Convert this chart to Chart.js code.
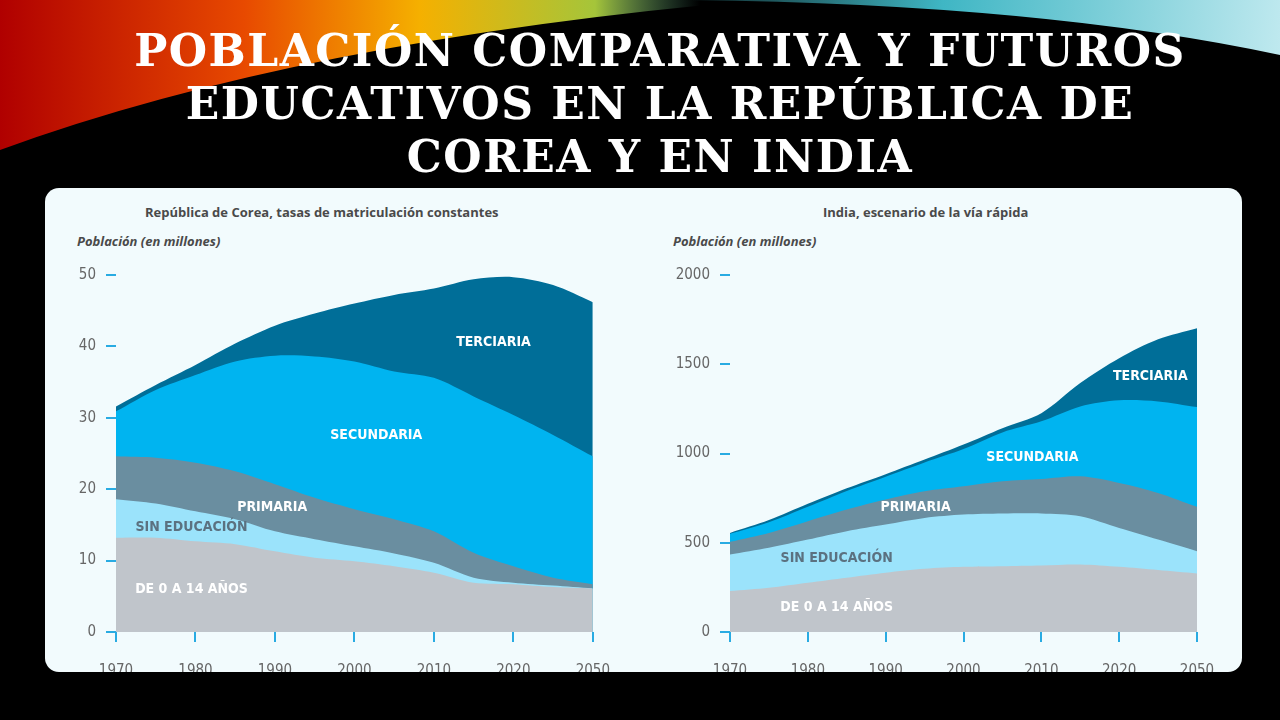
<!DOCTYPE html>
<html>
<head>
<meta charset="utf-8">
<script src="https://cdn.jsdelivr.net/npm/chart.js@4"></script>
<style>
  html, body { margin: 0; padding: 0; background: #000; }
  #slide { position: relative; width: 1280px; height: 720px; overflow: hidden; background: #000; }
  #deco { position: absolute; left: 0; top: 0; }
  #titulo { position: absolute; left: 20px; width: 1280px; top: 24px; text-align: center; color: #fff;
    font-family: 'DejaVu Serif', serif; font-weight: bold; font-size: 44px; line-height: 53px; letter-spacing: 1.5px; }
  #panel { position: absolute; left: 45px; top: 188px; width: 1197px; height: 484px; overflow: hidden;
    border-radius: 14px; background: #f2fbfd; }
  .sub { position: absolute; font-family: 'Open Sans', sans-serif; font-weight: bold; font-size: 13px; color: #4a4a4a; }
  .pob { position: absolute; font-family: 'Open Sans', sans-serif; font-weight: bold; font-style: italic; font-size: 13px; color: #4a4a4a; }
  canvas.ch { position: absolute; top: 0; }
</style>
</head>
<body>
<div id="slide">
  <canvas id="deco" width="1280" height="190"></canvas>
  <div id="titulo">POBLACIÓN COMPARATIVA Y FUTUROS<br>EDUCATIVOS EN LA REPÚBLICA DE<br>COREA Y EN INDIA</div>
  <div id="panel">
    <div class="sub" style="left:100px;top:15px">República de Corea, tasas de matriculación constantes</div>
    <div class="pob" style="left:32px;top:44px">Población (en millones)</div>
    <div class="sub" style="left:778px;top:15px">India, escenario de la vía rápida</div>
    <div class="pob" style="left:628px;top:44px">Población (en millones)</div>
    <canvas id="corea" class="ch" width="585" height="500" style="left:0"></canvas>
    <canvas id="india" class="ch" width="597" height="500" style="left:600px"></canvas>
  </div>
</div>
<script>
'use strict';

// Datos
const anios = ['1970', '1975', '1980', '1985', '1990', '1995', '2000', '2005', '2010', '2015', '2020', '2025', '2050'];
const etiquetasX = ['1970', '', '1980', '', '1990', '', '2000', '', '2010', '', '2020', '', '2050'];
const capas = ['De 0 a 14 años', 'Sin educación', 'Primaria', 'Secundaria', 'Terciaria'];
const colores = ['#c0c5cb', '#9be3fb', '#6a8ea0', '#00b4f0', '#006e98'];

// República de Corea (millones)
const coreaNinos = [13.2, 13.2, 12.7, 12.3, 11.3, 10.4, 9.9, 9.2, 8.3, 6.9, 6.7, 6.3, 6.1];
const coreaSin = [5.4, 4.8, 4.2, 3.5, 2.8, 2.6, 2.1, 1.8, 1.4, 0.7, 0.2, 0.2, 0.0];
const coreaPrim = [6.0, 6.4, 6.8, 6.7, 6.6, 5.8, 5.2, 4.8, 4.4, 3.5, 2.3, 1.1, 0.6];
const coreaSec = [6.3, 9.5, 12.3, 15.4, 18.0, 19.8, 20.7, 20.7, 21.5, 21.9, 21.2, 20.0, 17.9];
const coreaTer = [0.7, 0.7, 1.4, 2.5, 4.2, 6.0, 8.1, 10.7, 12.5, 16.4, 19.3, 21.0, 21.6];
const coreaTicks = [0, 10, 20, 30, 40, 50];

// India (millones)
const indiaNinos = [229, 248, 276, 304, 332, 354, 365, 369, 373, 378, 365, 347, 328];
const indiaSin = [205, 224, 242, 261, 270, 285, 293, 295, 291, 271, 218, 171, 125];
const indiaPrim = [71, 83, 103, 121, 140, 149, 158, 180, 193, 223, 252, 261, 248];
const indiaSec = [45, 60, 80, 104, 128, 162, 209, 274, 323, 392, 463, 513, 559];
const indiaTer = [5, 12, 17, 15, 14, 16, 25, 24, 46, 131, 236, 348, 442];
const indiaTicks = [0, 500, 1000, 1500, 2000];

// Rótulos dentro de las áreas: [texto, índice, valor, color]
const rotulosCorea = [
    ['TERCIARIA', 9.5, 40.5, '#fff'],
    ['SECUNDARIA', 6.55, 27.5, '#fff'],
    ['PRIMARIA', 3.93, 17.4, '#fff'],
    ['SIN EDUCACIÓN', 1.9, 14.7, '#5b7180'],
    ['DE 0 A 14 AÑOS', 1.9, 6.0, '#fff']
];
const rotulosIndia = [
    ['TERCIARIA', 10.8, 1430, '#fff'],
    ['SECUNDARIA', 7.77, 980, '#fff'],
    ['PRIMARIA', 4.77, 700, '#fff'],
    ['SIN EDUCACIÓN', 2.74, 414, '#5b7180'],
    ['DE 0 A 14 AÑOS', 2.74, 140, '#fff']
];

const fuenteEstrecha = '"DejaVu Sans Condensed", "Liberation Sans Narrow", sans-serif';

// Decoración superior
(function () {
    const c = document.getElementById('deco').getContext('2d');
    const g = c.createLinearGradient(0, 0, 700, 0);
    g.addColorStop(0, '#b00000');
    g.addColorStop(0.35, '#e84a00');
    g.addColorStop(0.6, '#f5b000');
    g.addColorStop(0.85, '#a5c53a');
    g.addColorStop(1, 'rgba(80,160,140,0)');
    c.fillStyle = g;
    c.beginPath();
    c.moveTo(0, 0); c.lineTo(760, 0);
    c.quadraticCurveTo(300, 40, 0, 150);
    c.closePath(); c.fill();
    const g2 = c.createLinearGradient(600, 0, 1280, 60);
    g2.addColorStop(0, 'rgba(60,170,180,0)');
    g2.addColorStop(0.5, '#3fb6c4');
    g2.addColorStop(1, '#bfe9ef');
    c.fillStyle = g2;
    c.beginPath();
    c.moveTo(560, 0); c.lineTo(1280, 0); c.lineTo(1280, 55);
    c.quadraticCurveTo(1000, -5, 560, 0);
    c.closePath(); c.fill();
})();

const pluginRotulos = {
    id: 'rotulos',
    afterDatasetsDraw(chart, args, opts) {
        const ctx = chart.ctx;
        const x = chart.scales.x, y = chart.scales.y;
        const paso = x.getPixelForValue(1) - x.getPixelForValue(0);
        ctx.save();
        ctx.font = 'bold 14px ' + fuenteEstrecha;
        ctx.textAlign = 'center';
        ctx.textBaseline = 'middle';
        opts.items.forEach(r => {
            ctx.fillStyle = r[3];
            ctx.fillText(r[0], x.getPixelForValue(0) + r[1] * paso, y.getPixelForValue(r[2]));
        });
        ctx.restore();
    }
};

function crearGrafico(id, series, ticks, maxY, padIzq, padDer, rotulos) {
    const ctx = document.getElementById(id).getContext('2d');
    return new Chart(ctx, {
        type: 'line',
        data: {
            labels: anios,
            datasets: series.map((s, i) => ({
                label: capas[i],
                data: s,
                fill: true,
                backgroundColor: colores[i],
                borderWidth: 0,
                pointRadius: 0,
                tension: 0.3
            }))
        },
        options: {
            responsive: false,
            animation: false,
            layout: { padding: { left: padIzq, right: padDer, top: 87, bottom: 0 } },
            plugins: { legend: { display: false }, tooltip: { enabled: false }, rotulos: { items: rotulos } },
            scales: {
                x: {
                    offset: false,
                    afterFit: s => { s.height = 56; },
                    grid: {
                        drawOnChartArea: false, tickLength: 10, lineWidth: 2,
                        color: c => (c.index % 2 ? 'rgba(0,0,0,0)' : '#29abe2')
                    },
                    border: { display: false },
                    ticks: {
                        autoSkip: false, maxRotation: 0, padding: 20,
                        color: '#666', font: { family: fuenteEstrecha, size: 15 },
                        callback: (v, i) => etiquetasX[i]
                    }
                },
                y: {
                    stacked: true, min: 0, max: maxY,
                    afterFit: s => { s.width = 60; },
                    afterBuildTicks: s => { s.ticks = ticks.map(v => ({ value: v })); },
                    grid: { drawOnChartArea: false, tickLength: 10, lineWidth: 2, color: '#29abe2' },
                    border: { display: false },
                    ticks: {
                        padding: 10, color: '#666', font: { family: fuenteEstrecha, size: 15 },
                        callback: v => String(v)
                    }
                }
            }
        },
        plugins: [pluginRotulos]
    });
}

crearGrafico('corea', [coreaNinos, coreaSin, coreaPrim, coreaSec, coreaTer], coreaTicks, 50, 11, 0, rotulosCorea);
crearGrafico('india', [indiaNinos, indiaSin, indiaPrim, indiaSec, indiaTer], indiaTicks, 2000, 25, 45, rotulosIndia);
</script>
</body>
</html>
